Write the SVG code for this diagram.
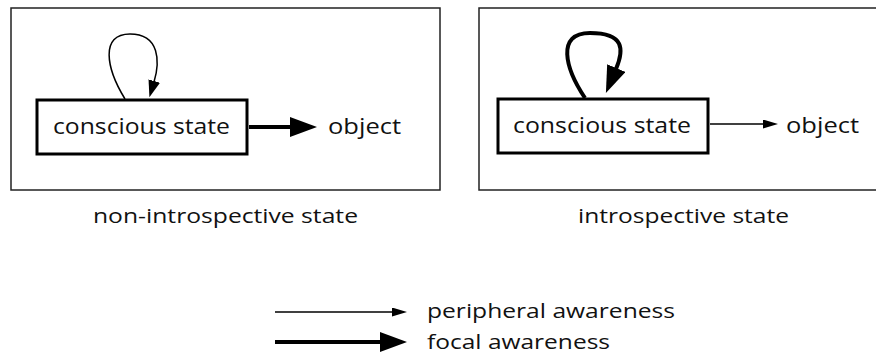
<svg xmlns="http://www.w3.org/2000/svg" width="876" height="358" viewBox="0 0 876 358">
<style>
text{font-family:"Open Sans","Noto Sans","Liberation Sans",sans-serif;fill:#111}
.outer{fill:none;stroke:#222;stroke-width:1.5}
.node{fill:#fff;stroke:#000;stroke-width:3}
.lbl{font-size:22px}
.cap{font-size:20.5px}
.thin{fill:none;stroke:#000;stroke-width:1.5}
.thick{fill:none;stroke:#000;stroke-width:4}
</style>
<defs>
<marker id="hThin" markerUnits="userSpaceOnUse" markerWidth="16" markerHeight="10" refX="1" refY="4.5" orient="auto"><path d="M0,0 L15,4.5 L0,9 z" fill="#000"/></marker>
<marker id="hLoop" markerUnits="userSpaceOnUse" markerWidth="18" markerHeight="13" refX="1" refY="6" orient="auto"><path d="M0,0 L17,6 L0,12 z" fill="#000"/></marker>
<marker id="hThick" markerUnits="userSpaceOnUse" markerWidth="28" markerHeight="21" refX="1" refY="10" orient="auto"><path d="M0,0 L27,10 L0,20 z" fill="#000"/></marker>
</defs>
<g id="panel-left">
<rect class="outer" x="11" y="8" width="429" height="182"/>
<text class="cap" x="93" y="223" textLength="265" lengthAdjust="spacingAndGlyphs">non-introspective state</text>
</g>
<g id="panel-right">
<rect class="outer" x="479" y="8" width="400" height="182"/>
<text class="cap" x="578" y="223" textLength="211" lengthAdjust="spacingAndGlyphs">introspective state</text>
</g>
<g id="connectors">
<path class="thin" d="M125,99 C106,68 100,34 130,34 C160,34 160,62 154,82" marker-end="url(#hLoop)"/>
<path class="thick" d="M249,127 L291,127" marker-end="url(#hThick)"/>
<path class="thick" d="M585,98 C565,68 556,33 590,33 C625,33 624,50 616,69" marker-end="url(#hThick)"/>
<path class="thin" d="M710,124 L764,124" marker-end="url(#hThin)"/>
<path class="thin" d="M275,312 L393,312" marker-end="url(#hThin)"/>
<path class="thick" d="M275,342 L381,342" marker-end="url(#hThick)"/>
</g>
<g id="node-conscious-left">
<rect class="node" x="37" y="100" width="210" height="54"/>
<text class="lbl" x="53" y="134" textLength="177" lengthAdjust="spacingAndGlyphs">conscious state</text>
</g>
<g id="node-object-left"><text class="lbl" x="328" y="134" textLength="73" lengthAdjust="spacingAndGlyphs">object</text></g>
<g id="node-conscious-right">
<rect class="node" x="498" y="99" width="210" height="54"/>
<text class="lbl" x="513" y="133" textLength="178" lengthAdjust="spacingAndGlyphs">conscious state</text>
</g>
<g id="node-object-right"><text class="lbl" x="786" y="133" textLength="73" lengthAdjust="spacingAndGlyphs">object</text></g>
<g id="legend">
<text class="cap" x="427" y="318" textLength="248" lengthAdjust="spacingAndGlyphs">peripheral awareness</text>
<text class="cap" x="427" y="349" textLength="183" lengthAdjust="spacingAndGlyphs">focal awareness</text>
</g>
</svg>
